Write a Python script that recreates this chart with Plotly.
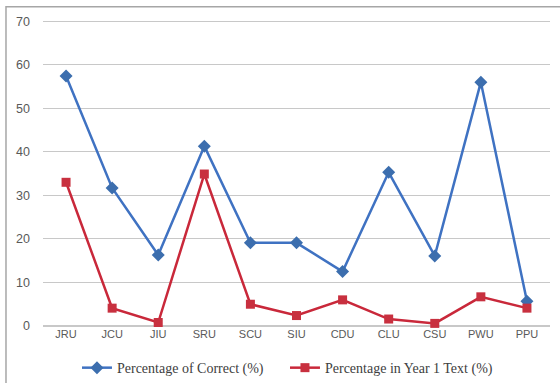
import plotly.graph_objects as go

categories = ["JRU", "JCU", "JIU", "SRU", "SCU", "SIU", "CDU", "CLU", "CSU", "PWU", "PPU"]
correct_pct = [57.4, 31.7, 16.3, 41.3, 19.1, 19.1, 12.5, 35.3, 16.1, 56.0, 5.7]
year1_pct = [33.0, 4.1, 0.8, 34.9, 5.0, 2.4, 6.0, 1.6, 0.6, 6.7, 4.1]
y_ticks = [0, 10, 20, 30, 40, 50, 60, 70]

fig = go.Figure()
fig.add_trace(go.Scatter(
    x=categories, y=correct_pct, mode="lines+markers",
    name="Percentage of Correct (%)",
    line=dict(color="#3F72C2", width=2.5),
    marker=dict(symbol="diamond", size=10, color="#3C6EAE"),
    cliponaxis=False,
))
fig.add_trace(go.Scatter(
    x=categories, y=year1_pct, mode="lines+markers",
    name="Percentage in Year 1 Text (%)",
    line=dict(color="#C9283A", width=2.5),
    marker=dict(symbol="square", size=9, color="#C8303F"),
    cliponaxis=False,
))

fig.update_layout(
    width=560, height=383,
    margin=dict(l=43, r=10, t=19, b=57, autoexpand=False),
    paper_bgcolor="white", plot_bgcolor="white",
    font=dict(family="Liberation Sans, Arial, sans-serif", color="#595959", size=11),
    showlegend=True,
    legend=dict(
        orientation="h", x=0.067, xanchor="left", y=-0.137, yanchor="middle",
        font=dict(family="Liberation Serif, Times New Roman, serif", size=14, color="#404040"),
        entrywidth=163, entrywidthmode="pixels",
        bgcolor="rgba(0,0,0,0)",
    ),
    xaxis=dict(
        type="category", range=[-0.5, len(categories) - 0.5],
        showgrid=False, showline=False, zeroline=False,
        ticks="", tickfont=dict(size=11, color="#595959"), automargin=False,
    ),
    yaxis=dict(
        range=[0, 70.5], tickvals=y_ticks, showgrid=True, gridcolor="#C8C8C8",
        gridwidth=1, zeroline=True, zerolinecolor="#C8C8C8", showline=False,
        ticks="", tickfont=dict(size=12.5, color="#595959"), ticklabelstandoff=12,
        automargin=False,
    ),
    shapes=[dict(
        type="rect", xref="paper", yref="paper",
        x0=-0.073, x1=1.05, y0=-0.3, y1=1.04,
        line=dict(color="#A6A6A6", width=1.5), fillcolor="rgba(0,0,0,0)",
        layer="below",
    )],
)

fig.write_html(
    "out.html",
    config={"displayModeBar": False},
    post_script="document.body.style.margin='0';document.body.style.overflow='hidden';",
)
